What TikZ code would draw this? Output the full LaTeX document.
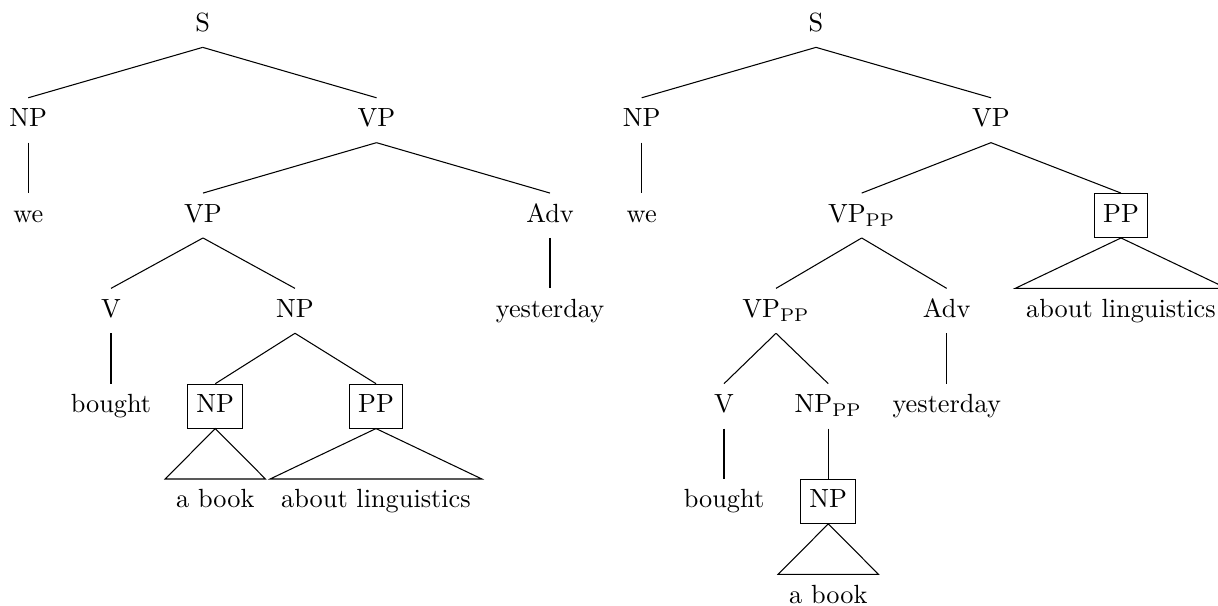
\documentclass[tikz,border=0pt]{standalone}
\begin{document}
\begin{tikzpicture}[x=0.3802pt,y=-0.3802pt,
  lbl/.style={anchor=base,inner sep=3.333pt,text height=7.5pt,text depth=2.5pt},
  boxed/.style={lbl,draw,line width=0.4pt},
  roof/.style={lbl,inner xsep=4pt},
  edge/.style={line width=0.4pt}]
\useasboundingbox (0,0) rectangle (1218,606);
\def\rA{31.5}\def\rB{126.8}\def\rC{222.1}\def\rD{317.4}\def\rE{412.7}\def\rF{508}\def\rG{603.3}
% left tree
\node[lbl] (lS) at (202.7,\rA) {S};
\node[lbl] (lNP) at (28.3,\rB) {NP};
\node[lbl] (lVP) at (376.5,\rB) {VP};
\node[lbl] (lwe) at (28.3,\rC) {we};
\node[lbl] (lVPb) at (203,\rC) {VP};
\node[lbl] (lAdv) at (550,\rC) {Adv};
\node[lbl] (lV) at (111,\rD) {V};
\node[lbl] (lNPc) at (295,\rD) {NP};
\node[lbl] (lyest) at (550,\rD) {yesterday};
\node[lbl] (lbought) at (111,\rE) {bought};
\node[boxed] (lNPbox) at (215.3,\rE) {NP};
\node[boxed] (lPPbox) at (376,\rE) {PP};
\node[roof] (labook) at (215.3,\rF) {a book};
\node[roof] (labout) at (376,\rF) {about linguistics};
\draw[edge] (lS.south) -- (lNP.north);
\draw[edge] (lS.south) -- (lVP.north);
\draw[edge] (lNP.south) -- (lwe.north);
\draw[edge] (lVP.south) -- (lVPb.north);
\draw[edge] (lVP.south) -- (lAdv.north);
\draw[edge] (lVPb.south) -- (lV.north);
\draw[edge] (lVPb.south) -- (lNPc.north);
\draw[edge] (lAdv.south) -- (lyest.north);
\draw[edge] (lV.south) -- (lbought.north);
\draw[edge] (lNPc.south) -- (lNPbox.north);
\draw[edge] (lNPc.south) -- (lPPbox.north);
\draw[edge] (lNPbox.south) -- (labook.north west) -- (labook.north east) -- cycle;
\draw[edge] (lPPbox.south) -- (labout.north west) -- (labout.north east) -- cycle;
% right tree
\node[lbl] (rS) at (816,\rA) {S};
\node[lbl] (rNP) at (641.7,\rB) {NP};
\node[lbl] (rVP) at (991,\rB) {VP};
\node[lbl] (rwe) at (641.7,\rC) {we};
\node[lbl] (rVPpp) at (861.7,\rC) {VP$_{\mathrm{PP}}$};
\node[boxed] (rPPbox) at (1121,\rC) {PP};
\node[lbl] (rVPppb) at (776,\rD) {VP$_{\mathrm{PP}}$};
\node[lbl] (rAdv) at (946.7,\rD) {Adv};
\node[roof] (rabout) at (1121,\rD) {about linguistics};
\node[lbl] (rV) at (724,\rE) {V};
\node[lbl] (rNPpp) at (828.3,\rE) {NP$_{\mathrm{PP}}$};
\node[lbl] (ryest) at (946.7,\rE) {yesterday};
\node[lbl] (rbought) at (724,\rF) {bought};
\node[boxed] (rNPbox) at (828.3,\rF) {NP};
\node[roof] (rabook) at (828.3,\rG) {a book};
\draw[edge] (rS.south) -- (rNP.north);
\draw[edge] (rS.south) -- (rVP.north);
\draw[edge] (rNP.south) -- (rwe.north);
\draw[edge] (rVP.south) -- (rVPpp.north);
\draw[edge] (rVP.south) -- (rPPbox.north);
\draw[edge] (rVPpp.south) -- (rVPppb.north);
\draw[edge] (rVPpp.south) -- (rAdv.north);
\draw[edge] (rPPbox.south) -- (rabout.north west) -- (rabout.north east) -- cycle;
\draw[edge] (rVPppb.south) -- (rV.north);
\draw[edge] (rVPppb.south) -- (rNPpp.north);
\draw[edge] (rAdv.south) -- (ryest.north);
\draw[edge] (rV.south) -- (rbought.north);
\draw[edge] (rNPpp.south) -- (rNPbox.north);
\draw[edge] (rNPbox.south) -- (rabook.north west) -- (rabook.north east) -- cycle;
\end{tikzpicture}
\end{document}
